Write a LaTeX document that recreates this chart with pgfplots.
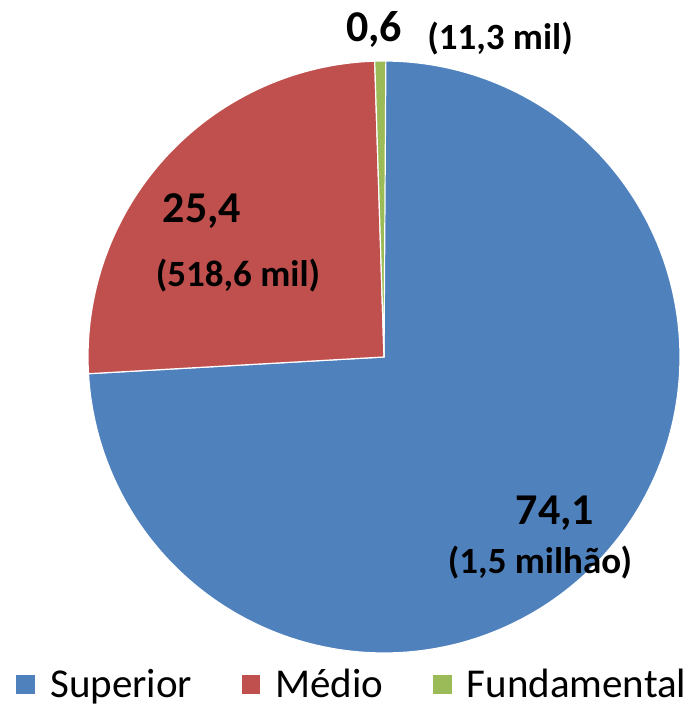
\documentclass[border=0pt]{standalone}
\usepackage{pgfplots}
\usepackage{pgfplotstable}
\pgfplotsset{compat=1.18}
\usepackage{fontspec}
\setmainfont{Carlito}
\definecolor{supblue}{HTML}{4F81BD}
\definecolor{medred}{HTML}{C0504D}
\definecolor{fungreen}{HTML}{9BBB59}
\pgfplotstableread{
label value
Superior 74.1
Medio 25.4
Fundamental 0.6
}\piedata
\begin{document}
\begin{tikzpicture}
\pgfplotstablegetelem{0}{value}\of\piedata \let\vA=\pgfplotsretval
\pgfplotstablegetelem{1}{value}\of\piedata \let\vB=\pgfplotsretval
\pgfplotstablegetelem{2}{value}\of\piedata \let\vC=\pgfplotsretval
\pgfmathsetmacro\aA{90-3.6*\vA}
\pgfmathsetmacro\aB{\aA-3.6*\vB}
\pgfmathsetmacro\aC{\aB-3.6*\vC}
\begin{axis}[
  scale only axis, width=698bp, height=707bp,
  xmin=0, xmax=698, ymin=0, ymax=707,
  hide axis, clip=false,
  legend columns=3,
  legend style={at={(axis cs:15,23)}, anchor=west, draw=none, fill=none,
    font=\fontsize{41bp}{44bp}\selectfont, inner sep=0pt,
    /tikz/every even column/.append style={column sep=46bp},
    /tikz/every odd column/.append style={column sep=12bp}},
  legend image code/.code={\fill[#1] (0bp,-11bp) rectangle (20bp,10bp);},
  legend cell align=left,
]
\addplot[fill=supblue, draw=white, line width=1.2pt, domain=\aA:90, samples=200, variable=\t]
  ({384+296*cos(\t)},{350+296*sin(\t)}) -- (axis cs:384,350) -- cycle;
\addplot[fill=medred, draw=white, line width=1.2pt, domain=\aB:\aA, samples=100, variable=\t]
  ({384+296*cos(\t)},{350+296*sin(\t)}) -- (axis cs:384,350) -- cycle;
\addplot[fill=fungreen, draw=white, line width=1.2pt, domain=\aC:\aB, samples=10, variable=\t]
  ({384+296*cos(\t)},{350+296*sin(\t)}) -- (axis cs:384,350) -- cycle;
\addlegendimage{fill=supblue}
\addlegendimage{fill=medred}
\addlegendimage{fill=fungreen}
\legend{Superior, Médio, Fundamental}
\path (rel axis cs:0,0) rectangle (rel axis cs:1,1);
\node[anchor=base, font=\fontsize{44bp}{48bp}\selectfont\bfseries, inner sep=0pt] at (axis cs:555,182) {74,1};
\node[anchor=base, font=\fontsize{37bp}{42bp}\selectfont\bfseries, inner sep=0pt] at (axis cs:540,133) {(1,5 milhão)};
\node[anchor=base, font=\fontsize{44bp}{48bp}\selectfont\bfseries, inner sep=0pt] at (axis cs:202,484) {25,4};
\node[anchor=base, font=\fontsize{37bp}{42bp}\selectfont\bfseries, inner sep=0pt] at (axis cs:238,420) {(518,6 mil)};
\node[anchor=base, font=\fontsize{44bp}{48bp}\selectfont\bfseries, inner sep=0pt] at (axis cs:374,665) {0,6};
\node[anchor=base, font=\fontsize{37bp}{42bp}\selectfont\bfseries, inner sep=0pt] at (axis cs:500,657) {(11,3 mil)};
\end{axis}
\end{tikzpicture}
\end{document}
